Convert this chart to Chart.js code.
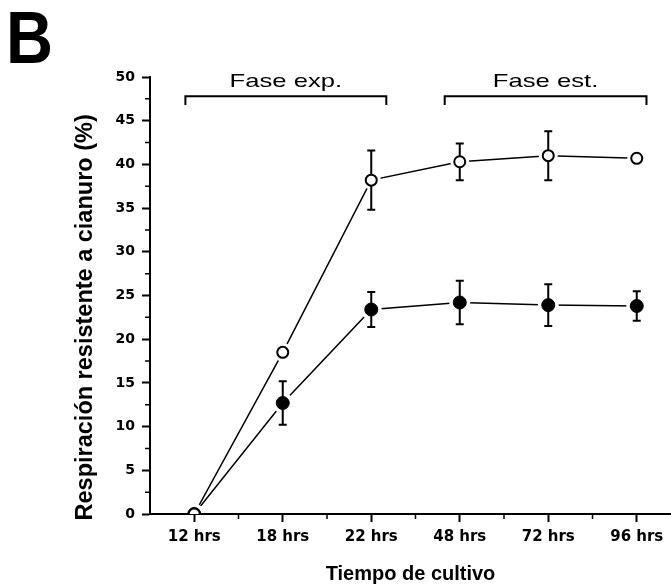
<!DOCTYPE html>
<html>
<head>
<meta charset="utf-8">
<script src="https://cdn.jsdelivr.net/npm/chart.js@4.4.1/dist/chart.umd.min.js"></script>
<style>
  html, body { margin: 0; padding: 0; background: #fff; overflow: hidden; }
  #wrap { width: 671px; height: 587px; }
</style>
</head>
<body>
<div id="wrap"><canvas id="chart"></canvas></div>
<script>
'use strict';

const timeLabels = ['12 hrs', '18 hrs', '22 hrs', '48 hrs', '72 hrs', '96 hrs'];
const openValues = [0, 18.5, 38.2, 40.3, 41.0, 40.7];
const openErrors = [0, 0.4, 3.4, 2.1, 2.8, 0.3];
const filledValues = [0, 12.7, 23.4, 24.2, 23.9, 23.8];
const filledErrors = [0, 2.5, 2.0, 2.5, 2.4, 1.7];

// growth phases, spans given in x-axis units
const phaseNames = ['Fase exp.', 'Fase est.'];
const phaseFrom = [-0.1, 2.83];
const phaseTo = [2.17, 5.11];

const yTitle = 'Respiración resistente a cianuro (%)';

const toPoints = vals => vals.map((v, i) => ({ x: i, y: v }));

// draws white rings (lines stop short of the markers), error bars,
// the markers again on top, the minor ticks, phase brackets and panel letter
const overlay = {
  id: 'overlay',
  afterDatasetsDraw(chart) {
    const ctx = chart.ctx;
    const a = chart.chartArea;
    const xs = chart.scales.x;
    const ys = chart.scales.y;
    const sets = chart.data.datasets;

    ctx.save();
    ctx.beginPath();
    ctx.rect(a.left + 1, a.top, a.right - a.left, a.bottom - a.top - 1);
    ctx.clip();

    for (let i = sets.length - 1; i >= 0; i--) {
      chart.getDatasetMeta(i).data.forEach(pt => {
        ctx.beginPath();
        ctx.arc(pt.x, pt.y, sets[i].pointRadius + 4, 0, Math.PI * 2);
        ctx.fillStyle = '#fff';
        ctx.fill();
      });
    }

    ctx.strokeStyle = '#000';
    ctx.lineWidth = 2;
    for (let i = sets.length - 1; i >= 0; i--) {
      const errs = sets[i].errors;
      sets[i].data.forEach((p, j) => {
        if (!errs[j]) return;
        const px = xs.getPixelForValue(p.x);
        const hi = ys.getPixelForValue(p.y + errs[j]);
        const lo = ys.getPixelForValue(p.y - errs[j]);
        ctx.beginPath();
        ctx.moveTo(px, hi); ctx.lineTo(px, lo);
        ctx.moveTo(px - 4, hi); ctx.lineTo(px + 4, hi);
        ctx.moveTo(px - 4, lo); ctx.lineTo(px + 4, lo);
        ctx.stroke();
      });
    }

    for (let i = sets.length - 1; i >= 0; i--) {
      chart.getDatasetMeta(i).data.forEach(pt => pt.draw(ctx, a));
    }
    ctx.restore();

    // minor ticks
    ctx.save();
    ctx.strokeStyle = '#000';
    ctx.lineWidth = 1.5;
    ctx.beginPath();
    for (let v = 2.5; v < 50; v += 5) {
      const py = ys.getPixelForValue(v);
      ctx.moveTo(a.left - 5, py); ctx.lineTo(a.left, py);
    }
    for (let k = 0.5; k < timeLabels.length - 1; k += 1) {
      const px = xs.getPixelForValue(k);
      ctx.moveTo(px, a.bottom); ctx.lineTo(px, a.bottom + 5);
    }
    ctx.stroke();
    ctx.restore();

    // phase brackets
    ctx.save();
    ctx.strokeStyle = '#000';
    ctx.fillStyle = '#000';
    ctx.lineWidth = 2;
    const lineY = ys.getPixelForValue(47.8);
    const footY = ys.getPixelForValue(46.8);
    const textY = ys.getPixelForValue(48.8);
    phaseNames.forEach((name, k) => {
      const x0 = xs.getPixelForValue(phaseFrom[k]);
      const x1 = xs.getPixelForValue(phaseTo[k]);
      ctx.beginPath();
      ctx.moveTo(x0, footY); ctx.lineTo(x0, lineY);
      ctx.lineTo(x1, lineY); ctx.lineTo(x1, footY);
      ctx.stroke();
      ctx.save();
      ctx.translate((x0 + x1) / 2, textY);
      ctx.scale(1.35, 1);
      ctx.font = '19px "Liberation Sans", Arial, sans-serif';
      ctx.textAlign = 'center';
      ctx.textBaseline = 'alphabetic';
      ctx.fillText(name, 0, 0);
      ctx.restore();
    });

    // y-axis title, set a little below the middle of the axis
    ctx.save();
    ctx.translate(86, ys.getPixelForValue(22.5));
    ctx.rotate(-Math.PI / 2);
    ctx.font = 'bold 23.5px "Liberation Sans", Arial, sans-serif';
    ctx.textAlign = 'center';
    ctx.textBaseline = 'middle';
    ctx.fillText(yTitle, 0, 0);
    ctx.restore();

    // panel letter
    ctx.save();
    ctx.translate(6, 63);
    ctx.scale(0.88, 1);
    ctx.font = 'bold 74px "Liberation Sans", Arial, sans-serif';
    ctx.textBaseline = 'alphabetic';
    ctx.fillText('B', 0, 0);
    ctx.restore();
    ctx.restore();
  }
};

const ctx = document.getElementById('chart').getContext('2d');
new Chart(ctx, {
  type: 'line',
  data: {
    datasets: [
      {
        label: 'open',
        data: toPoints(openValues),
        errors: openErrors,
        borderColor: '#000',
        borderWidth: 1.5,
        pointRadius: 5.5,
        pointBorderWidth: 2,
        pointBackgroundColor: '#fff',
        pointBorderColor: '#000',
        fill: false,
        tension: 0
      },
      {
        label: 'filled',
        data: toPoints(filledValues),
        errors: filledErrors,
        borderColor: '#000',
        borderWidth: 1.5,
        pointRadius: 6.5,
        pointBorderWidth: 1,
        pointBackgroundColor: '#000',
        pointBorderColor: '#000',
        fill: false,
        tension: 0
      }
    ]
  },
  options: {
    animation: false,
    responsive: true,
    maintainAspectRatio: false,
    layout: { autoPadding: false, padding: { left: 68, top: 77, right: 0, bottom: 0 } },
    plugins: { legend: { display: false }, tooltip: { enabled: false } },
    scales: {
      x: {
        type: 'linear',
        min: -0.5,
        max: 5.387,
        afterBuildTicks: s => { s.ticks = timeLabels.map((_, i) => ({ value: i })); },
        afterFit: s => { s.height = 73; },
        ticks: {
          callback: v => timeLabels[v],
          color: '#000',
          padding: 6,
          maxRotation: 0,
          font: { family: '"DejaVu Sans"', size: 15, weight: 'bold' }
        },
        grid: { drawOnChartArea: false, drawTicks: true, tickLength: 8, tickWidth: 2, tickColor: '#000' },
        border: { display: true, color: '#000', width: 2 },
        title: {
          display: true,
          text: 'Tiempo de cultivo',
          color: '#000',
          padding: { top: 0, bottom: 1 },
          font: { family: '"Liberation Sans"', size: 20, weight: 'bold' }
        }
      },
      y: {
        min: 0,
        max: 50,
        afterFit: s => { s.width = 82; },
        ticks: {
          stepSize: 5,
          color: '#000',
          padding: 7,
          font: { family: '"DejaVu Sans"', size: 14, weight: 'bold' }
        },
        grid: { drawOnChartArea: false, drawTicks: true, tickLength: 8, tickWidth: 2, tickColor: '#000' },
        border: { display: true, color: '#000', width: 2 }
      }
    }
  },
  plugins: [overlay]
});
</script>
</body>
</html>
